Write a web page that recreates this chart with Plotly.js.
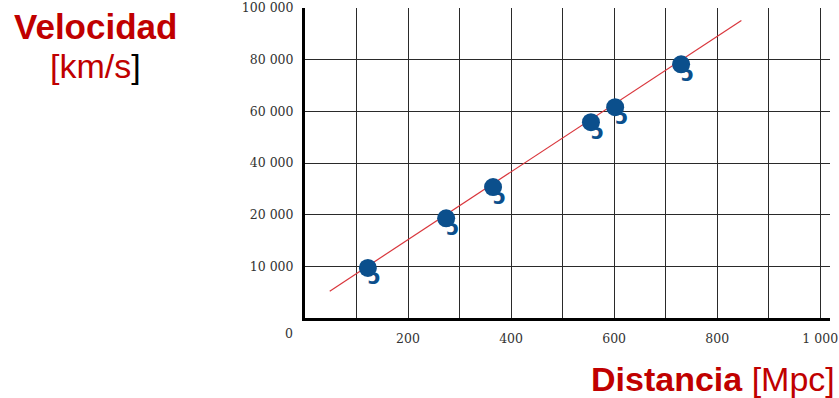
<!DOCTYPE html>
<html>
<head>
<meta charset="utf-8">
<script src="https://cdn.plot.ly/plotly-3.0.1.min.js"></script>
<style>
  html, body { margin: 0; padding: 0; background: #fff; }
  #chart { width: 839px; height: 398px; }
</style>
</head>
<body>
<div id="chart"></div>
<script>
// Galaxy distances (Mpc) and recession velocities (km/s)
const distance = [122, 274, 365, 555, 602, 730];
const velocity = [9700, 19300, 30700, 55800, 61600, 78200];

// Fitted Hubble line endpoints
const fitDistance = [48, 847];
const fitVelocity = [5200, 95200];

// Velocity axis: evenly spaced gridlines with these labelled values
const yTickValues = [0, 10000, 20000, 40000, 60000, 80000, 100000];
const yTickLabels = ['0', '10 000', '20 000', '40 000', '60 000', '80 000', '100 000'];

// Distance axis gridlines and labels
const xTickValues = [100, 200, 300, 400, 500, 600, 700, 800, 900, 1000];
const xTickLabels = ['', '200', '', '400', '', '600', '', '800', '', '1 000'];

// Place a velocity on the evenly spaced velocity scale
function velToAxis(v) {
  for (let i = 1; i < yTickValues.length; i++) {
    if (v <= yTickValues[i]) {
      const a = yTickValues[i - 1], b = yTickValues[i];
      return (i - 1) + (v - a) / (b - a);
    }
  }
  return yTickValues.length - 1;
}

const yPos = velocity.map(velToAxis);
const fitPos = fitVelocity.map(velToAxis);

const blue = '#0b4f8c';
const red = '#c00000';

const traces = [
  {
    x: fitDistance, y: fitPos, mode: 'lines',
    line: { color: '#d9363c', width: 1.2 },
    hoverinfo: 'skip', showlegend: false
  },
  // galaxy: curled tail
  {
    x: distance, y: yPos, mode: 'text',
    text: distance.map(() => 'ɔ'),
    textposition: 'bottom right',
    textfont: { family: 'DejaVu Sans', size: 22, color: blue, weight: 'bold' },
    showlegend: false, hoverinfo: 'skip'
  },
  // galaxy: bright core
  {
    x: distance, y: yPos, mode: 'markers',
    marker: { symbol: 'circle', size: 18, color: blue },
    showlegend: false
  }
];

const tickFont = { family: 'DejaVu Serif', size: 12.5, color: '#333' };

const layout = {
  width: 839, height: 398,
  margin: { l: 305, r: 9, t: 8, b: 80 },
  paper_bgcolor: '#fff', plot_bgcolor: '#fff',
  showlegend: false,
  xaxis: {
    range: [0, 1019], tickmode: 'array',
    tickvals: xTickValues, ticktext: xTickLabels,
    showgrid: true, gridcolor: '#2a2a2a', gridwidth: 1,
    zeroline: false, showline: true, linecolor: '#000', linewidth: 3,
    ticks: '', tickfont: tickFont, ticklabelstandoff: 7
  },
  yaxis: {
    range: [0, 6], tickmode: 'array',
    tickvals: [1, 2, 3, 4, 5, 6], ticktext: yTickLabels.slice(1),
    showgrid: true, gridcolor: '#2a2a2a', gridwidth: 1,
    zeroline: false, showline: true, linecolor: '#000', linewidth: 3,
    ticks: '', tickfont: tickFont, ticklabelstandoff: 6
  },
  annotations: [
    {
      text: '0', xref: 'x', yref: 'y', x: 0, y: 0,
      xshift: -16, yshift: -15, showarrow: false, font: tickFont
    },
    {
      text: '<b>Velocidad</b>', xref: 'paper', yref: 'paper',
      x: -0.4, y: (318 - 26) / 310, xanchor: 'center', yanchor: 'middle',
      showarrow: false,
      font: { family: 'Liberation Sans', size: 35, color: red }
    },
    {
      text: '[km/s<span style="color:#000">]</span>', xref: 'paper', yref: 'paper',
      x: -0.4, y: (318 - 66) / 310, xanchor: 'center', yanchor: 'middle',
      showarrow: false,
      font: { family: 'Liberation Sans', size: 34, color: red }
    },
    {
      text: '<b>Distancia</b> [Mpc]', xref: 'paper', yref: 'paper',
      x: (837 - 305) / 525, y: (318 - 379) / 310, xanchor: 'right', yanchor: 'middle',
      showarrow: false,
      font: { family: 'Liberation Sans', size: 34, color: red }
    }
  ]
};

Plotly.newPlot('chart', traces, layout, { displayModeBar: false, staticPlot: true });
</script>
</body>
</html>
